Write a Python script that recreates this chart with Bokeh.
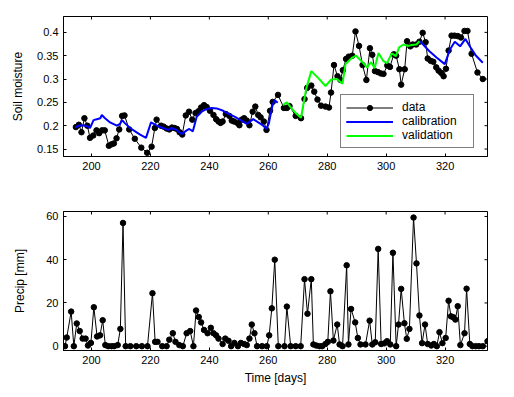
import math
from bokeh.plotting import figure
from bokeh.models import (FixedTicker, CustomJSTickFormatter, Range1d, Legend, LegendItem)
from bokeh.layouts import column
from bokeh.embed import file_html
from bokeh.resources import INLINE

FONT = "Liberation Sans"

# ---------------- data ----------------
sm_day = [194.7, 195.7, 196.6, 197.6, 198.6, 199.5, 200.6, 201.7, 202.6, 203.6, 204.5, 205.9,
          206.8, 207.6, 208.5, 209.4, 210.4, 211.2, 212.8, 214.7, 216.9, 218.9, 220.4, 221.5,
          222.1, 223.6, 224.5, 225.5, 226.4, 227.3, 228.2, 229.0, 229.9, 230.8, 232.0, 233.1,
          234.2, 235.3, 236.3, 237.2, 238.2, 239.1, 240.2, 241.4, 242.3, 243.1, 243.8, 244.5,
          245.6, 246.8, 247.6, 248.4, 249.5, 250.2, 251.0, 251.8, 252.7, 253.6, 254.7, 255.6,
          256.6, 257.4, 258.5, 259.4, 260.6, 261.5, 263.3, 265.3, 266.3, 267.2, 269.3, 271.1,
          272.3, 273.2, 274.6, 275.6, 276.7, 277.9, 279.4, 280.6, 281.3, 282.3, 283.5, 284.5,
          285.3, 286.4, 287.3, 288.5, 289.6, 290.8, 292.0, 293.3, 294.5, 295.3, 296.2, 297.2,
          298.2, 299.1, 300.4, 301.3, 302.6, 303.4, 304.5, 305.1, 306.3, 307.1, 308.2, 309.0,
          310.2, 311.3, 312.4, 313.4, 314.1, 315.1, 316.0, 317.0, 317.8, 318.7, 319.5, 320.3,
          321.2, 322.2, 323.2, 324.3, 325.4, 326.6, 327.6, 329.0, 331.0, 332.8]
sm_val = [0.197, 0.202, 0.186, 0.216, 0.200, 0.174, 0.179, 0.190, 0.184, 0.190, 0.190, 0.157,
          0.160, 0.162, 0.173, 0.192, 0.221, 0.222, 0.192, 0.172, 0.153, 0.142, 0.155, 0.195,
          0.213, 0.200, 0.198, 0.194, 0.192, 0.196, 0.195, 0.193, 0.186, 0.181, 0.222, 0.230,
          0.213, 0.227, 0.231, 0.239, 0.244, 0.240, 0.232, 0.223, 0.214, 0.209, 0.206, 0.209,
          0.225, 0.221, 0.211, 0.209, 0.206, 0.201, 0.213, 0.216, 0.211, 0.201, 0.230, 0.241,
          0.223, 0.218, 0.209, 0.191, 0.232, 0.251, 0.266, 0.238, 0.238, 0.242, 0.221, 0.216,
          0.257, 0.281, 0.286, 0.273, 0.256, 0.243, 0.241, 0.239, 0.271, 0.330, 0.306, 0.298,
          0.319, 0.343, 0.348, 0.350, 0.402, 0.371, 0.330, 0.298, 0.366, 0.352, 0.317, 0.315,
          0.312, 0.311, 0.329, 0.326, 0.353, 0.350, 0.321, 0.288, 0.321, 0.381, 0.370, 0.374,
          0.374, 0.380, 0.399, 0.379, 0.344, 0.339, 0.337, 0.325, 0.318, 0.313, 0.306, 0.322,
          0.361, 0.393, 0.393, 0.392, 0.389, 0.403, 0.403, 0.354, 0.314, 0.300]

cal1_day = [194.5, 195.6, 197.3, 198.8, 199.5, 200.7, 201.8, 203.0, 203.5, 204.6, 206.3, 208.6,
            209.7, 210.4, 211.4, 213.1, 214.8, 216.5, 218.5, 220.2, 221.9, 223.8, 226.1, 227.2,
            228.9, 230.6, 232.3, 233.2, 234.4, 235.7, 237.4, 239.1, 240.8, 242.5, 244.7, 246.4,
            248.7, 250.9, 252.7, 254.9, 256.6, 258.3, 259.4, 260.2, 261.3, 262.1, 263.2]
cal1_val = [0.196, 0.200, 0.201, 0.198, 0.195, 0.212, 0.214, 0.216, 0.223, 0.216, 0.207, 0.200,
            0.204, 0.212, 0.205, 0.195, 0.188, 0.181, 0.174, 0.207, 0.201, 0.196, 0.191, 0.195,
            0.191, 0.182, 0.190, 0.193, 0.188, 0.219, 0.230, 0.236, 0.238, 0.237, 0.232, 0.226,
            0.219, 0.211, 0.204, 0.214, 0.207, 0.200, 0.193, 0.205, 0.240, 0.255, 0.249]

val_day = [265.0, 266.3, 267.9, 269.5, 271.1, 272.9, 274.6, 277.0, 279.4, 281.4, 283.3, 285.2,
           286.2, 288.5, 289.8, 292.0, 293.5, 294.9, 296.1, 297.4, 299.0, 300.3, 301.9, 303.3,
           304.4, 305.9, 307.3, 308.7, 310.3, 311.3]
val_val = [0.244, 0.250, 0.237, 0.226, 0.217, 0.280, 0.317, 0.302, 0.285, 0.299, 0.300, 0.290,
           0.332, 0.346, 0.350, 0.336, 0.325, 0.336, 0.323, 0.356, 0.339, 0.334, 0.355, 0.349,
           0.368, 0.374, 0.371, 0.373, 0.374, 0.381]

cal2_day = [311.3, 312.4, 314.6, 317.1, 319.9, 321.7, 323.3, 325.1, 326.9, 328.6, 330.5, 332.8]
cal2_val = [0.381, 0.375, 0.360, 0.346, 0.332, 0.364, 0.380, 0.370, 0.386, 0.368, 0.350, 0.335]

pr_day = [191.0, 191.6, 193.1, 194.0, 195.0, 196.0, 197.0, 198.0, 198.8, 199.8, 200.8, 201.9,
          202.9, 203.8, 204.7, 205.7, 206.8, 207.7, 208.9, 209.8, 210.7, 211.6, 213.2, 215.2,
          217.1, 219.0, 220.7, 221.6, 222.4, 224.0, 225.5, 226.4, 227.6, 228.5, 229.8, 231.0,
          232.3, 233.5, 234.6, 235.5, 236.4, 237.2, 238.2, 239.4, 240.5, 241.4, 242.3, 243.1,
          244.5, 245.4, 246.5, 247.4, 248.5, 249.7, 250.7, 251.8, 252.7, 253.6, 254.4, 255.3,
          256.2, 257.9, 259.5, 260.3, 261.2, 262.2, 263.4, 265.5, 266.3, 267.6, 269.3, 271.0,
          272.3, 273.3, 274.6, 275.3, 276.3, 277.4, 278.3, 279.4, 280.2, 281.1, 282.1, 283.4,
          284.2, 285.2, 286.6, 287.2, 288.1, 289.5, 290.4, 291.3, 293.0, 294.4, 295.3, 296.3,
          297.3, 298.3, 299.4, 300.3, 301.4, 302.3, 303.4, 304.2, 305.1, 306.2, 307.0, 307.9,
          309.3, 310.3, 311.3, 312.2, 313.2, 314.1, 315.3, 316.2, 317.2, 318.1, 319.1, 320.2,
          321.2, 322.0, 322.8, 323.5, 324.3, 325.2, 326.6, 327.3, 328.4, 329.3, 330.4, 331.5,
          332.8, 334.4]
pr_val = [0, 4, 16, 0, 10.5, 7, 3.5, 3.5, 0.3, 1.5, 18, 4.5,
          5, 12, 0.5, 0, 0, 0, 0.5, 8, 57, 0, 0, 0,
          0, 0, 24.5, 2, 2, 0, 0, 3, 6, 2, 0.5, 0,
          6, 7, 0, 16.5, 13.5, 11, 7.5, 6, 8.5, 6, 5, 3.5,
          1, 3.5, 2.5, 0, 1.5, 0, 1.5, 1, 0.5, 3.5, 10, 6,
          0, 0, 0, 5, 17.5, 40, 0, 0, 18.3, 0, 0, 0,
          31, 15, 31, 0.8, 0.3, 0, 0, 1, 2, 25.4, 2.6, 10,
          0.8, 0, 37.4, 0.8, 17.2, 11, 3.8, 0.8, 0.8, 11.8, 0.8, 1.8,
          45, 1, 1.3, 2.3, 0.8, 43.2, 0, 10, 26.5, 10.6, 3.4, 8,
          59.5, 38.3, 14.2, 1.4, 10, 1, 0.3, 1, 0, 6.5, 1.4, 3.8,
          21, 13.8, 13.4, 12.3, 18.5, 0.5, 6, 26.6, 1, 0, 0, 0,
          0, 2.3]

x_ticks = [200, 220, 240, 260, 280, 300, 320]
sm_ticks = [0.15, 0.2, 0.25, 0.3, 0.35, 0.4]
pr_ticks = [0, 20, 40, 60]

xr = Range1d(190.5, 334.4)


def style(p, xticks, yticks, ylabel, ylabel_standoff, xlabel=None):
    p.outline_line_color = "black"
    p.outline_line_width = 1
    p.grid.visible = False
    fmt = CustomJSTickFormatter(code="return (Math.round(tick*100)/100).toString();")
    p.xaxis.ticker = FixedTicker(ticks=xticks)
    p.yaxis.ticker = FixedTicker(ticks=yticks)
    p.yaxis.formatter = fmt
    p.yaxis.axis_label = ylabel
    p.yaxis.axis_label_standoff = ylabel_standoff
    if xlabel:
        p.xaxis.axis_label = xlabel
        p.xaxis.axis_label_standoff = 4
    for ax in [p.xaxis[0], p.yaxis[0]]:
        ax.axis_line_color = "black"
        ax.major_tick_in = 3
        ax.major_tick_out = 0
        ax.minor_tick_line_color = None
        ax.major_tick_line_color = "black"
        ax.major_label_text_font = FONT
        ax.major_label_text_font_size = "11px"
        ax.major_label_text_color = "black"
        ax.major_label_standoff = 5
        ax.axis_label_text_font = FONT
        ax.axis_label_text_font_size = "12px"
        ax.axis_label_text_font_style = "normal"
        ax.axis_label_text_color = "black"
    # inward tick marks on the top and right edges of the box (MATLAB style)
    p.scatter(xticks, [p.y_range.end] * len(xticks), marker="dash", angle=math.pi / 2,
              size=6, line_color="black", line_width=1)
    p.scatter([p.x_range.end] * len(yticks), yticks, marker="dash",
              size=6, line_color="black", line_width=1)


# ---------------- top: soil moisture ----------------
p1 = figure(width=510, height=186, x_range=xr, y_range=Range1d(0.134, 0.434),
            output_backend="svg", toolbar_location=None,
            min_border_left=63, min_border_right=23, min_border_top=16, min_border_bottom=30)
style(p1, x_ticks, sm_ticks, "Soil moisture", 9)

r_dl = p1.line(sm_day, sm_val, line_color="black", line_width=1)
r_dm = p1.scatter(sm_day, sm_val, size=5.5, fill_color="black", line_color="black")
r_c1 = p1.line(cal1_day, cal1_val, line_color="#0000ff", line_width=2)
r_c2 = p1.line(cal2_day, cal2_val, line_color="#0000ff", line_width=2)
r_v = p1.line(val_day, val_val, line_color="#00ff00", line_width=2)

legend = Legend(items=[LegendItem(label="data", renderers=[r_dl, r_dm]),
                       LegendItem(label="calibration", renderers=[r_c1, r_c2]),
                       LegendItem(label="validation", renderers=[r_v])],
                location=(277, 8), padding=5, spacing=0, margin=0,
                glyph_width=47, glyph_height=13, label_height=13, label_width=66,
                label_standoff=9, label_text_font=FONT, label_text_font_size="12px",
                label_text_color="black", border_line_color="black", border_line_width=1,
                background_fill_color="white", background_fill_alpha=1)
p1.add_layout(legend, "center")

# ---------------- bottom: precipitation ----------------
p2 = figure(width=510, height=204, x_range=xr, y_range=Range1d(-2, 62.3),
            output_backend="svg", toolbar_location=None,
            min_border_left=63, min_border_right=23, min_border_top=25, min_border_bottom=40)
style(p2, x_ticks, pr_ticks, "Precip [mm]", 16, xlabel="Time [days]")
p2.line(pr_day, pr_val, line_color="black", line_width=1)
p2.scatter(pr_day, pr_val, size=5.5, fill_color="black", line_color="black")

layout = column(p1, p2, spacing=0)
open("out.html", "w").write(file_html(layout, INLINE))
